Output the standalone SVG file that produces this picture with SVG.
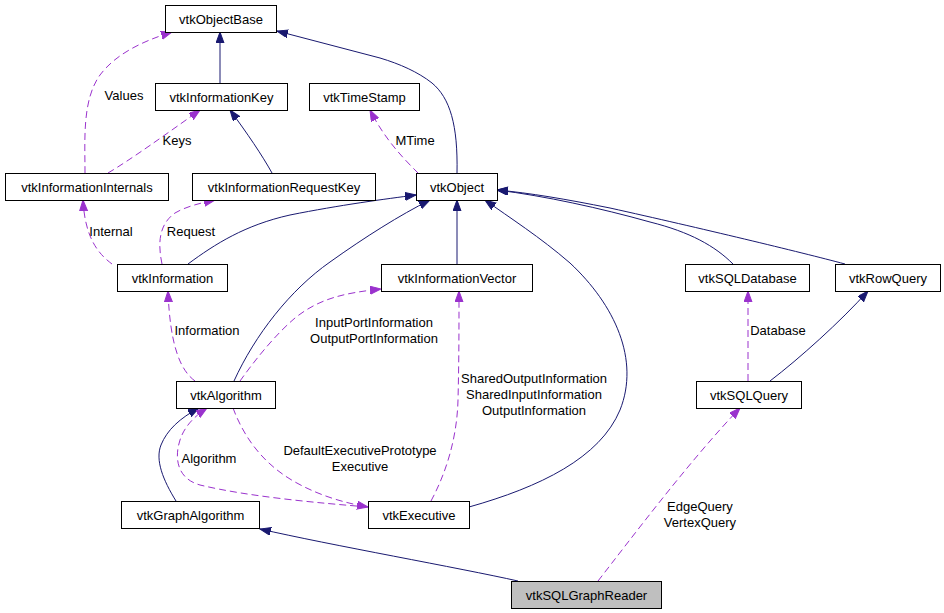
<svg xmlns="http://www.w3.org/2000/svg" width="944" height="613" viewBox="0 0 944 613">
<style>
.box{fill:#ffffff;stroke:#000000;stroke-width:1}
.cur{fill:#bfbfbf;stroke:#000000;stroke-width:1}
text{font-family:"Liberation Sans",Arial,Helvetica,sans-serif;font-size:13px;fill:#000000}
.n{text-anchor:middle}
.inh{fill:none;stroke:#191970;stroke-width:1;marker-end:url(#an)}
.use{fill:none;stroke:#9a32cd;stroke-width:1;stroke-dasharray:7,4;marker-end:url(#ap)}
</style>
<defs>
<marker id="an" markerUnits="userSpaceOnUse" markerWidth="12" markerHeight="9" refX="11" refY="4" orient="auto" viewBox="0 0 12 9">
<path d="M0,0 L11,4 L0,8 z" fill="#191970" stroke="#191970"/>
</marker>
<marker id="ap" markerUnits="userSpaceOnUse" markerWidth="12" markerHeight="9" refX="11" refY="4" orient="auto" viewBox="0 0 12 9">
<path d="M0,0 L11,4 L0,8 z" fill="#9a32cd" stroke="#9a32cd"/>
</marker>
</defs>
<rect width="944" height="613" fill="#ffffff"/>
<g id="edges">
<path class="inh" d="M220,83 L220,32"/>
<path class="inh" d="M457,173 C458,125 450,98 432,83 C418,72 400,64 380,58 L277,31"/>
<path class="inh" d="M272,173 C262,155 247,133 230,110"/>
<path class="inh" d="M188,264 C215,244 245,225 290,215 C340,205 385,199 416,195"/>
<path class="inh" d="M234,381 C255,335 290,290 330,262 C365,237 400,215 430,200"/>
<path class="inh" d="M457,264 L457,200"/>
<path class="inh" d="M469,507 C540,487 600,458 620,410 C640,360 615,305 570,263 C540,237 510,218 485,200"/>
<path class="inh" d="M733,264 C715,246 690,232 650,222 C600,208 545,196 497,190"/>
<path class="inh" d="M845,264 C800,252 700,228 610,208 C565,199 530,193 497,190"/>
<path class="inh" d="M770,381 C800,358 840,322 868,291"/>
<path class="inh" d="M176,501 C163,480 155,460 161,445 C167,430 180,418 199,408"/>
<path class="inh" d="M518,581 C460,568 330,545 260,529"/>
<path class="use" d="M85,173 C85,140 82,100 100,75 C115,55 140,42 172,32"/>
<path class="use" d="M108,173 C130,160 165,135 200,110"/>
<path class="use" d="M418,173 C405,160 385,140 370,110"/>
<path class="use" d="M112,264 C100,255 85,240 83,200"/>
<path class="use" d="M162,264 C158,245 158,225 175,213 C185,207 200,203 215,200"/>
<path class="use" d="M195,381 C180,370 170,345 168,291"/>
<path class="use" d="M240,381 C255,360 275,335 295,318 C320,298 345,293 381,289"/>
<path class="use" d="M431,501 C445,475 457,440 458,400 C459,360 459,330 459,291"/>
<path class="use" d="M233,408 C245,440 265,465 295,482 C320,496 345,503 368,507"/>
<path class="use" d="M368,507 C320,503 250,497 200,485 C175,478 175,455 180,440 C184,428 192,418 207,408"/>
<path class="use" d="M748,381 L748,291"/>
<path class="use" d="M598,581 C630,540 690,460 740,408"/>
<text class="n" x="124" y="100">Values</text>
<text class="n" x="177" y="145">Keys</text>
<text class="n" x="415" y="145">MTime</text>
<text class="n" x="111" y="236">Internal</text>
<text class="n" x="191" y="236">Request</text>
<text class="n" x="207" y="335">Information</text>
<text class="n" x="374" y="327">InputPortInformation</text>
<text class="n" x="374" y="343">OutputPortInformation</text>
<text class="n" x="534" y="383">SharedOutputInformation</text>
<text class="n" x="534" y="399">SharedInputInformation</text>
<text class="n" x="534" y="415">OutputInformation</text>
<text class="n" x="778" y="335">Database</text>
<text class="n" x="209" y="463">Algorithm</text>
<text class="n" x="360" y="455">DefaultExecutivePrototype</text>
<text class="n" x="360" y="471">Executive</text>
<text class="n" x="700" y="511">EdgeQuery</text>
<text class="n" x="700" y="527">VertexQuery</text>
</g>
<g id="vtkObjectBase"><rect class="box" x="165.5" y="5.5" width="111" height="27"/><text class="n" x="221" y="23.5">vtkObjectBase</text></g>
<g id="vtkInformationKey"><rect class="box" x="155.5" y="83.5" width="132" height="27"/><text class="n" x="221.5" y="101.5">vtkInformationKey</text></g>
<g id="vtkTimeStamp"><rect class="box" x="309.5" y="83.5" width="110" height="27"/><text class="n" x="364.5" y="101.5">vtkTimeStamp</text></g>
<g id="vtkInformationInternals"><rect class="box" x="5.5" y="173.5" width="163" height="27"/><text class="n" x="87" y="191.5">vtkInformationInternals</text></g>
<g id="vtkInformationRequestKey"><rect class="box" x="192.5" y="173.5" width="183" height="27"/><text class="n" x="284" y="191.5">vtkInformationRequestKey</text></g>
<g id="vtkObject"><rect class="box" x="416.5" y="173.5" width="81" height="27"/><text class="n" x="457" y="191.5">vtkObject</text></g>
<g id="vtkInformation"><rect class="box" x="117.5" y="264.5" width="110" height="27"/><text class="n" x="172.5" y="282.5">vtkInformation</text></g>
<g id="vtkInformationVector"><rect class="box" x="381.5" y="264.5" width="151" height="27"/><text class="n" x="457" y="282.5">vtkInformationVector</text></g>
<g id="vtkSQLDatabase"><rect class="box" x="685.5" y="264.5" width="124" height="27"/><text class="n" x="747.5" y="282.5">vtkSQLDatabase</text></g>
<g id="vtkRowQuery"><rect class="box" x="835.5" y="264.5" width="105" height="27"/><text class="n" x="888" y="282.5">vtkRowQuery</text></g>
<g id="vtkAlgorithm"><rect class="box" x="176.5" y="381.5" width="99" height="27"/><text class="n" x="226" y="399.5">vtkAlgorithm</text></g>
<g id="vtkSQLQuery"><rect class="box" x="696.5" y="381.5" width="105" height="27"/><text class="n" x="749" y="399.5">vtkSQLQuery</text></g>
<g id="vtkGraphAlgorithm"><rect class="box" x="121.5" y="501.5" width="138" height="27"/><text class="n" x="190.5" y="519.5">vtkGraphAlgorithm</text></g>
<g id="vtkExecutive"><rect class="box" x="368.5" y="501.5" width="101" height="27"/><text class="n" x="419" y="519.5">vtkExecutive</text></g>
<g id="vtkSQLGraphReader"><rect class="cur" x="511.5" y="581.5" width="150" height="27"/><text class="n" x="586.5" y="599.5">vtkSQLGraphReader</text></g>
</svg>
